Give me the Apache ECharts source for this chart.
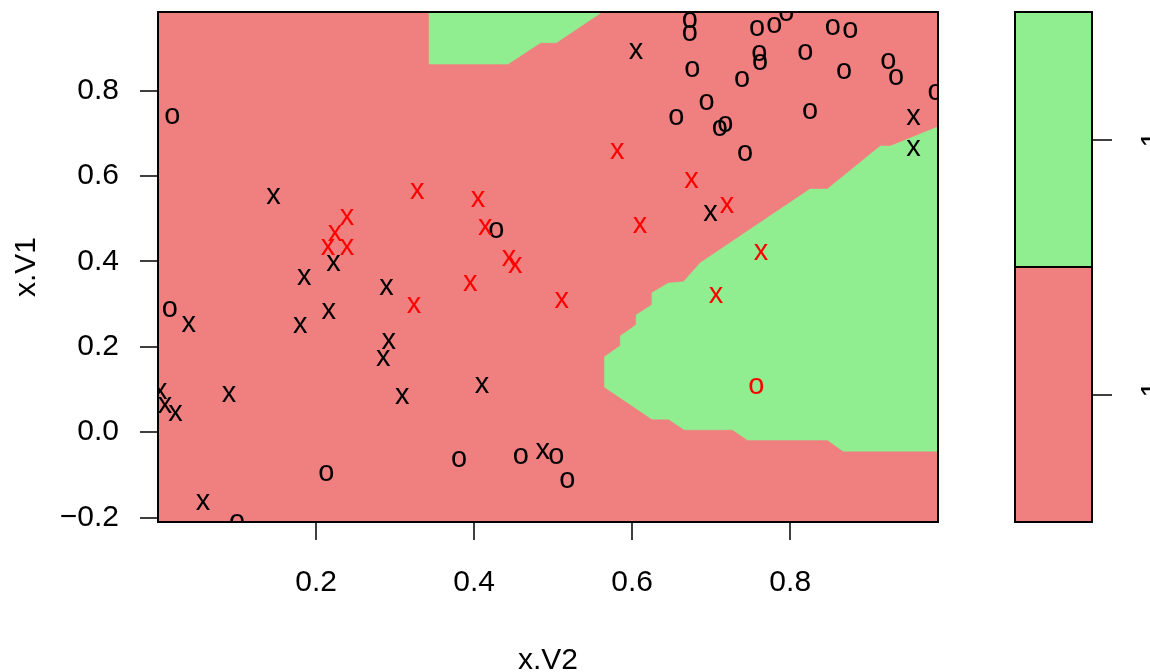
<!DOCTYPE html>
<html>
<head>
<meta charset="utf-8">
<script src="https://cdn.jsdelivr.net/npm/echarts@6/dist/echarts.min.js"></script>
<style>
  html, body { margin: 0; padding: 0; background: #fff; }
  #chart { width: 1150px; height: 672px; }
</style>
</head>
<body>
<div id="chart"></div>
<script>
// axes
const xTicks = [0.2, 0.4, 0.6, 0.8];
const yTicks = [-0.2, 0, 0.2, 0.4, 0.6, 0.8];
const xRange = [0, 0.987];
const yRange = [-0.211, 0.984];
const keyLevels = ['-1', '1'];

// region predicted as class 1 (green), vertices as [x.V2, x.V1]
const greenTop = [
  [0.343, 0.984], [0.343, 0.862], [0.443, 0.862], [0.484, 0.912],
  [0.504, 0.912], [0.562, 0.984]
];
const greenRight = [
  [0.987, 0.715], [0.927, 0.670], [0.914, 0.670], [0.847, 0.569],
  [0.825, 0.569], [0.686, 0.396], [0.665, 0.352], [0.646, 0.349],
  [0.625, 0.326], [0.625, 0.298], [0.605, 0.274], [0.605, 0.251],
  [0.585, 0.225], [0.585, 0.202], [0.565, 0.176], [0.565, 0.105],
  [0.625, 0.030], [0.646, 0.030], [0.666, 0.005], [0.727, 0.005],
  [0.746, -0.019], [0.847, -0.019], [0.867, -0.045], [0.987, -0.045]
];

// data points [x.V2, x.V1]
const blackO = [
  [0.018, 0.741], [0.015, 0.288], [0.213, -0.096], [0.100, -0.211],
  [0.381, -0.063], [0.428, 0.473], [0.459, -0.056], [0.504, -0.056],
  [0.518, -0.112], [0.656, 0.738], [0.673, 0.966], [0.673, 0.935],
  [0.676, 0.851], [0.694, 0.773], [0.711, 0.712], [0.718, 0.722],
  [0.739, 0.827], [0.743, 0.654], [0.758, 0.947], [0.761, 0.888],
  [0.762, 0.867], [0.780, 0.954], [0.795, 0.982], [0.819, 0.891],
  [0.825, 0.752], [0.854, 0.949], [0.868, 0.846], [0.876, 0.942],
  [0.924, 0.869], [0.934, 0.832], [0.984, 0.797]
];
const blackX = [
  [0.146, 0.553], [0.605, 0.893], [0.222, 0.396], [0.185, 0.363],
  [0.289, 0.340], [0.216, 0.284], [0.180, 0.251], [0.039, 0.253],
  [0.292, 0.213], [0.285, 0.173], [0.090, 0.089], [0.309, 0.084],
  [0.003, 0.096], [0.009, 0.063], [0.022, 0.045], [0.057, -0.164],
  [0.410, 0.110], [0.487, -0.045], [0.699, 0.513], [0.956, 0.738],
  [0.956, 0.666]
];
const redX = [
  [0.328, 0.565], [0.239, 0.504], [0.224, 0.466], [0.215, 0.434],
  [0.239, 0.434], [0.405, 0.546], [0.414, 0.480], [0.444, 0.408],
  [0.452, 0.391], [0.395, 0.349], [0.324, 0.298], [0.511, 0.309],
  [0.581, 0.659], [0.610, 0.485], [0.675, 0.591], [0.720, 0.532],
  [0.763, 0.422], [0.706, 0.321]
];
const redO = [
  [0.757, 0.108]
];

const PINK = '#F08080';
const GREEN = '#90EE90';
const FONT = '"Liberation Sans", Arial, sans-serif';

const chart = echarts.init(document.getElementById('chart'));

function regionSeries(poly) {
  return {
    type: 'custom',
    xAxisIndex: 0,
    yAxisIndex: 0,
    z: 1,
    silent: true,
    data: [[0, 0]],
    renderItem: (params, api) => ({
      type: 'polygon',
      shape: { points: poly.map(p => api.coord(p)) },
      style: { fill: GREEN, stroke: GREEN, lineWidth: 0.5 }
    })
  };
}

function pointSeries(pts, ch, color) {
  return {
    type: 'custom',
    xAxisIndex: 0,
    yAxisIndex: 0,
    z: 5,
    clip: true,
    silent: true,
    data: pts,
    renderItem: (params, api) => {
      const c = api.coord([api.value(0), api.value(1)]);
      return {
        type: 'text',
        x: c[0],
        y: c[1],
        style: {
          text: ch,
          fill: color,
          font: '29px ' + FONT,
          align: 'center',
          verticalAlign: 'middle'
        }
      };
    }
  };
}

function fmt(v) {
  return v < 0 ? '\u2212' + Math.abs(v).toFixed(1) : v.toFixed(1);
}

const boxLine = { show: true, onZero: false, lineStyle: { color: '#000', width: 2 } };

const option = {
  animation: false,
  grid: [
    { left: 158, top: 12, width: 780, height: 510, show: true, backgroundColor: PINK, borderWidth: 0, outerBoundsMode: 'none' },
    { left: 1015, top: 12, width: 77, height: 510, outerBoundsMode: 'none' }
  ],
  xAxis: [
    {
      gridIndex: 0, type: 'value', min: xRange[0], max: xRange[1],
      position: 'bottom', z: 10,
      splitLine: { show: false },
      axisLine: boxLine,
      axisTick: { show: true, length: 18, customValues: xTicks, lineStyle: { color: '#000', width: 1.5 } },
      axisLabel: { customValues: xTicks, fontSize: 30, fontFamily: FONT, color: '#000', margin: 46, formatter: v => v.toFixed(1) },
      name: 'x.V2', nameLocation: 'middle', nameGap: 124,
      nameTextStyle: { fontSize: 30, fontFamily: FONT, color: '#000' }
    },
    {
      gridIndex: 0, type: 'value', min: xRange[0], max: xRange[1],
      position: 'top', z: 10,
      splitLine: { show: false },
      axisLine: boxLine,
      axisTick: { show: false }, axisLabel: { show: false }
    },
    { gridIndex: 1, type: 'value', min: 0, max: 1, show: false }
  ],
  yAxis: [
    {
      gridIndex: 0, type: 'value', min: yRange[0], max: yRange[1],
      position: 'left', z: 10,
      splitLine: { show: false },
      axisLine: boxLine,
      axisTick: { show: true, length: 18, customValues: yTicks, lineStyle: { color: '#000', width: 1.5 } },
      axisLabel: { customValues: yTicks, fontSize: 30, fontFamily: FONT, color: '#000', margin: 39, formatter: fmt },
      name: 'x.V1', nameLocation: 'middle', nameGap: 116, nameRotate: 90,
      nameTextStyle: { fontSize: 30, fontFamily: FONT, color: '#000' }
    },
    {
      gridIndex: 0, type: 'value', min: yRange[0], max: yRange[1],
      position: 'right', z: 10,
      splitLine: { show: false },
      axisLine: boxLine,
      axisTick: { show: false }, axisLabel: { show: false }
    },
    {
      gridIndex: 1, type: 'value', min: 0, max: 2,
      position: 'right',
      splitLine: { show: false },
      axisLine: { show: false, onZero: false },
      axisTick: { show: true, length: 20, customValues: [0.5, 1.5], lineStyle: { color: '#000', width: 1.5 } },
      axisLabel: {
        customValues: [0.5, 1.5], fontSize: 30, fontFamily: FONT, color: '#000', margin: 46, rotate: 90,
        formatter: v => keyLevels[Math.floor(v)]
      }
    }
  ],
  series: [
    regionSeries(greenTop),
    regionSeries(greenRight),
    pointSeries(blackO, 'o', '#000'),
    pointSeries(blackX, 'x', '#000'),
    pointSeries(redX, 'x', '#FF0000'),
    pointSeries(redO, 'o', '#FF0000'),
    {
      type: 'custom',
      xAxisIndex: 2,
      yAxisIndex: 2,
      silent: true,
      data: [[0, 1, 0], [1, 2, 1]],
      renderItem: (params, api) => {
        const p0 = api.coord([0, api.value(1)]);
        const p1 = api.coord([1, api.value(0)]);
        return {
          type: 'rect',
          shape: { x: p0[0], y: p0[1], width: p1[0] - p0[0], height: p1[1] - p0[1] },
          style: { fill: api.value(2) ? GREEN : PINK, stroke: '#000', lineWidth: 2 }
        };
      }
    }
  ]
};

chart.setOption(option);
</script>
</body>
</html>
